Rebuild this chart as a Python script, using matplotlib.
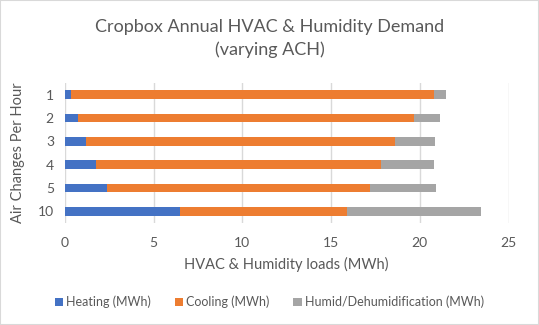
import numpy as np
import matplotlib.pyplot as plt
from matplotlib.patches import Rectangle

ach = ['1', '2', '3', '4', '5', '10']
heating = [0.34, 0.71, 1.16, 1.73, 2.35, 6.48]
cooling = [20.44, 18.94, 17.44, 16.10, 14.82, 9.44]
humid = [0.72, 1.49, 2.26, 2.97, 3.76, 7.51]

plt.rcParams['font.family'] = ['Lato', 'DejaVu Sans']
txt = '#595959'

fig = plt.figure(figsize=(5.39, 3.25), dpi=100)
ax = fig.add_axes([65/539, 1 - 223/325, (508.5-65)/539, 140/325])

y = np.arange(len(ach))
heating = np.array(heating)
cooling = np.array(cooling)
humid = np.array(humid)
h = 0.37
ax.barh(y, heating, height=h, color='#4472C4', label='Heating (MWh)', zorder=3)
ax.barh(y, cooling, height=h, left=heating, color='#ED7D31', label='Cooling (MWh)', zorder=3)
ax.barh(y, humid, height=h, left=heating + cooling, color='#A5A5A5',
        label='Humid/Dehumidification (MWh)', zorder=3)

ax.set_xlim(0, 25)
ax.set_ylim(len(ach) - 0.5, -0.5)
ax.set_yticks(y)
ax.set_yticklabels(ach)
ax.set_xticks(np.arange(0, 26, 5))
ax.grid(axis='x', color='#D9D9D9', linewidth=1, zorder=0)
for s in ax.spines.values():
    s.set_visible(False)
ax.tick_params(length=0, colors=txt, labelsize=10, pad=8)
ax.tick_params(axis='x', pad=10)

ax.set_xlabel('HVAC & Humidity loads (MWh)', color=txt, fontsize=10.5, labelpad=6)
ax.set_ylabel('Air Changes Per Hour', color=txt, fontsize=10.5, labelpad=9)

fig.text(0.5, 1 - 27/325, 'Cropbox Annual HVAC & Humidity Demand', ha='center', va='center',
         fontsize=13, color=txt)
fig.text(0.5, 1 - 50/325, '(varying ACH)', ha='center', va='center', fontsize=13, color=txt)

leg = fig.legend(loc='center', bbox_to_anchor=(0.5, 1 - 302/325), ncol=3, frameon=False,
                 fontsize=9, handlelength=0.65, handleheight=0.65, handletextpad=0.25,
                 columnspacing=1.9)
for t in leg.get_texts():
    t.set_color(txt)

fig.patches.append(Rectangle((0, 0), 1, 1, transform=fig.transFigure, fill=False,
                             edgecolor='#D9D9D9', linewidth=1.5))

fig.savefig('out.png', dpi=100)
